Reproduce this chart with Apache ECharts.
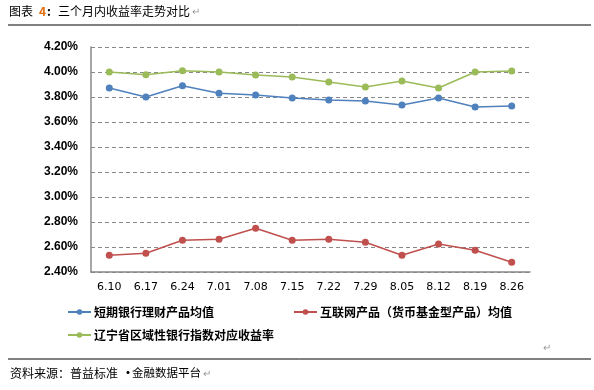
<!DOCTYPE html>
<html><head><meta charset="utf-8">
<script src="https://cdn.jsdelivr.net/npm/echarts@6/dist/echarts.min.js"></script>
<style>html,body{margin:0;padding:0;background:#fff}#c{width:594px;height:390px}</style>
</head><body><div id="c"></div>
<script>
const cats = ['6.10','6.17','6.24','7.01','7.08','7.15','7.22','7.29','8.05','8.12','8.19','8.26'];
const bankShort = [3.872,3.80,3.89,3.83,3.816,3.792,3.776,3.768,3.736,3.792,3.72,3.728];
const internet = [2.534,2.55,2.654,2.662,2.75,2.654,2.662,2.638,2.534,2.624,2.574,2.478];
const liaoning = [4.00,3.978,4.01,4.00,3.976,3.96,3.92,3.88,3.928,3.872,4.00,4.008];
const names = ['短期银行理财产品均值','互联网产品（货币基金型产品）均值','辽宁省区域性银行指数对应收益率'];
const colors = ['#4F81BD','#C0504D','#9BBB59'];
const yTicks = {min:2.4,max:4.2,interval:0.2};

const chart = echarts.init(document.getElementById('c'));
const cjk = '"Noto Sans CJK SC", sans-serif';
function mkSeries(i, data){
  return {name:names[i], type:'line', data:data, symbol:'circle', symbolSize:7,
    lineStyle:{width:1.5,color:colors[i]}, itemStyle:{color:colors[i]}, animation:false};
}
function mkLegend(i,left,top){
  return {data:[names[i]], left:left, top:top, padding:0, itemWidth:23, itemHeight:7, itemGap:4,
    textStyle:{fontFamily:cjk,fontSize:12,fontWeight:'bold',color:'#000',padding:[0,0,0,-2]}, selectedMode:false};
}
chart.setOption({
  backgroundColor:'#fff',
  grid:{left:91,right:64,top:47,bottom:118},
  xAxis:{type:'category',data:cats,boundaryGap:true,
    axisLine:{lineStyle:{color:'#888',width:1.5}},axisTick:{show:false},
    axisLabel:{color:'#000',fontSize:11,fontFamily:'Tahoma, "DejaVu Sans", sans-serif',margin:10}},
  yAxis:{type:'value',min:yTicks.min,max:yTicks.max,interval:yTicks.interval,
    axisLine:{show:true,lineStyle:{color:'#888',width:1.5}},axisTick:{show:false},
    splitLine:{lineStyle:{color:'#888',type:[4,3],width:1}},
    axisLabel:{color:'#000',fontSize:12,fontWeight:'bold',fontFamily:'"Liberation Sans", Arial, sans-serif',margin:13,
      formatter:v=>v.toFixed(2)+'%'}},
  legend:[mkLegend(0,67,306),mkLegend(1,293,306),mkLegend(2,67,329)],
  series:[mkSeries(0,bankShort),mkSeries(1,internet),mkSeries(2,liaoning)],
  graphic:[
    {type:'text',left:9,top:5,style:{text:'图表',font:'12px '+cjk,fill:'#000'}},
    {type:'text',left:39,top:5,style:{text:'4',font:'bold 12px '+cjk,fill:'#E46C0A'}},
    {type:'text',left:47,top:5,style:{text:':',font:'bold 12px '+cjk,fill:'#000'}},
    {type:'text',left:58,top:5,style:{text:'三个月内收益率走势对比',font:'12px '+cjk,fill:'#000'}},
    {type:'text',left:192,top:7,style:{text:'↵',font:'10px sans-serif',fill:'#999'}},
    {type:'line',shape:{x1:8,y1:25,x2:591,y2:25},style:{stroke:'#000',lineWidth:1}},
    {type:'text',left:543,top:343,style:{text:'↵',font:'10px sans-serif',fill:'#999'}},
    {type:'line',shape:{x1:8,y1:359,x2:591,y2:359},style:{stroke:'#000',lineWidth:1}},
    {type:'text',left:10,top:367,style:{text:'资料来源：普益标准',font:'12px '+cjk,fill:'#000'}},
    {type:'text',left:122,top:367,style:{text:'·',font:'bold 12px '+cjk,fill:'#000'}},
    {type:'text',left:132,top:367,style:{text:'金融数据平台',font:'11.5px '+cjk,fill:'#000'}},
    {type:'text',left:203,top:369,style:{text:'↵',font:'10px sans-serif',fill:'#999'}}
  ]
});
</script></body></html>
